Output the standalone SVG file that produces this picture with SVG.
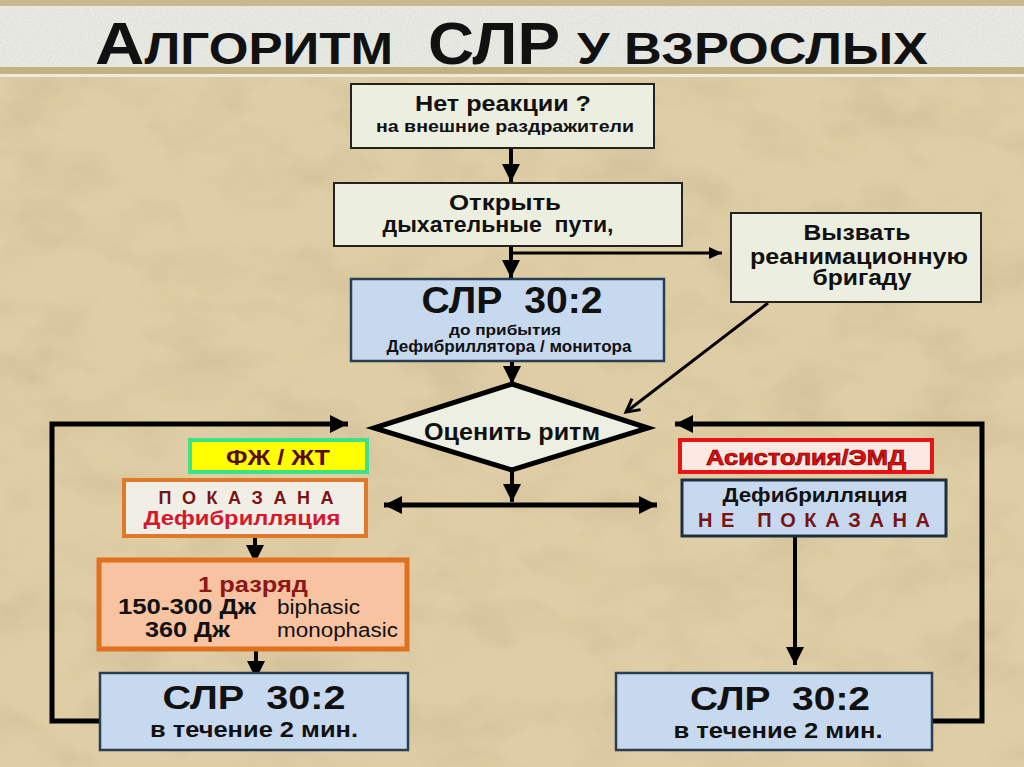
<svg xmlns="http://www.w3.org/2000/svg" width="1024" height="767" viewBox="0 0 1024 767">
<defs>
<filter id="paper" x="0" y="0" width="100%" height="100%">
<feTurbulence type="fractalNoise" baseFrequency="0.012 0.02" numOctaves="4" seed="7"/>
<feColorMatrix type="matrix" values="0 0 0 0 0.62  0 0 0 0 0.5  0 0 0 0 0.3  2.6 0 0 0 -1.1"/>
</filter>
<filter id="grain" x="0" y="0" width="100%" height="100%">
<feTurbulence type="fractalNoise" baseFrequency="0.6" numOctaves="2" seed="2"/>
<feColorMatrix type="matrix" values="0 0 0 0 0.6  0 0 0 0 0.6  0 0 0 0 0.58  1.6 0 0 0 -0.65"/>
</filter>
<marker id="ah" markerUnits="userSpaceOnUse" markerWidth="20" markerHeight="20" refX="18" refY="10" orient="auto">
<path d="M0,1 L18,10 L0,19 Z" fill="#000"/>
</marker>
<marker id="ahs" markerUnits="userSpaceOnUse" markerWidth="20" markerHeight="20" refX="18" refY="10" orient="auto-start-reverse">
<path d="M0,1 L18,10 L0,19 Z" fill="#000"/>
</marker>
<marker id="ahsm" markerUnits="userSpaceOnUse" markerWidth="14" markerHeight="14" refX="13" refY="7" orient="auto">
<path d="M0,1 L13,7 L0,13 Z" fill="#000"/>
</marker>
<marker id="ahopen" markerUnits="userSpaceOnUse" markerWidth="18" markerHeight="18" refX="15" refY="9" orient="auto">
<path d="M2,2 L15,9 L2,16" fill="none" stroke="#000" stroke-width="3"/>
</marker>
<style>
text{font-family:"Liberation Sans",Arial,sans-serif;font-weight:bold;fill:#111;white-space:pre;}
.box{fill:#ecefdf;stroke:#222;stroke-width:2;}
.blue{fill:#c7d9ef;stroke:#2a3e52;stroke-width:2.5;}
.c{text-anchor:middle;}
.conn path,.conn line{fill:none;stroke:#000;}
</style>
</defs>
<!-- background -->
<rect width="1024" height="767" fill="#dfcea5"/>
<rect width="1024" height="767" filter="url(#paper)" opacity="0.6"/>
<!-- title band -->
<rect x="0" y="0" width="1024" height="6" fill="#c9b88c"/>
<rect x="0" y="6" width="1024" height="61" fill="#e9e9e3"/>
<rect x="0" y="6" width="1024" height="61" filter="url(#grain)" opacity="0.5"/>
<rect x="0" y="67" width="1024" height="7" fill="#c3b183"/>
<rect x="0" y="74" width="1024" height="3" fill="#ecebdf"/>
<g id="title">
<text x="95" y="64" font-size="59" textLength="298" lengthAdjust="spacingAndGlyphs">А<tspan font-size="44">ЛГОРИТМ</tspan></text>
<text x="428" y="64" font-size="59" textLength="132" lengthAdjust="spacingAndGlyphs">СЛР</text>
<text x="577" y="64" font-size="44" textLength="351" lengthAdjust="spacingAndGlyphs">У ВЗРОСЛЫХ</text>
</g>
<!-- connectors -->
<g id="connectors" class="conn">
<line x1="511" y1="148" x2="511" y2="182" stroke-width="4" marker-end="url(#ah)"/>
<line x1="511" y1="246" x2="511" y2="278" stroke-width="4" marker-end="url(#ah)"/>
<line x1="511" y1="253" x2="722" y2="253" stroke-width="3" marker-end="url(#ahsm)"/>
<line x1="512" y1="361" x2="512" y2="384" stroke-width="4" marker-end="url(#ah)"/>
<line x1="768" y1="303" x2="626" y2="412" stroke-width="3" marker-end="url(#ahopen)"/>
<line x1="512" y1="470" x2="512" y2="502" stroke-width="4" marker-end="url(#ah)"/>
<line x1="384" y1="505" x2="657" y2="505" stroke-width="5" marker-start="url(#ahs)" marker-end="url(#ahs)"/>
<line x1="255" y1="537" x2="255" y2="563" stroke-width="4" marker-end="url(#ah)"/>
<line x1="256" y1="650" x2="256" y2="679" stroke-width="4" marker-end="url(#ah)"/>
<line x1="795" y1="536" x2="795" y2="665" stroke-width="4" marker-end="url(#ah)"/>
<path d="M100,721 H52 V424 H348" stroke-width="5" marker-end="url(#ah)"/>
<path d="M933,721 H982 V424 H675" stroke-width="5" marker-end="url(#ah)"/>
</g>
<!-- nodes -->
<g id="no-response">
<rect class="box" x="351" y="84" width="303" height="64"/>
<text class="c" x="503" y="111" font-size="22" textLength="176" lengthAdjust="spacingAndGlyphs">Нет реакции ?</text>
<text class="c" x="505" y="132" font-size="17" textLength="258" lengthAdjust="spacingAndGlyphs">на внешние раздражители</text>
</g>
<g id="open-airway">
<rect class="box" x="334" y="183" width="348" height="63"/>
<text class="c" x="505" y="210" font-size="22" textLength="112" lengthAdjust="spacingAndGlyphs">Открыть</text>
<text class="c" x="498" y="232" font-size="22" textLength="231" lengthAdjust="spacingAndGlyphs" xml:space="preserve">дыхательные  пути,</text>
</g>
<g id="call-team">
<rect class="box" x="731" y="213" width="250" height="89"/>
<text class="c" x="857" y="240" font-size="22" textLength="107" lengthAdjust="spacingAndGlyphs">Вызвать</text>
<text class="c" x="859" y="264" font-size="22" textLength="218" lengthAdjust="spacingAndGlyphs">реанимационную</text>
<text class="c" x="862" y="285" font-size="22" textLength="99" lengthAdjust="spacingAndGlyphs">бригаду</text>
</g>
<g id="cpr-initial">
<rect class="blue" x="351" y="279" width="313" height="82"/>
<text class="c" x="512" y="313" font-size="37" textLength="181" lengthAdjust="spacingAndGlyphs" xml:space="preserve">СЛР  30:2</text>
<text class="c" x="505" y="335" font-size="15.5" textLength="112" lengthAdjust="spacingAndGlyphs">до прибытия</text>
<text class="c" x="509" y="352" font-size="16" textLength="245" lengthAdjust="spacingAndGlyphs">Дефибриллятора / монитора</text>
</g>
<g id="assess-rhythm">
<polygon points="512,384 648,428 512,470 374,428" fill="#ecefe2" stroke="#000" stroke-width="5" stroke-linejoin="miter"/>
<text class="c" x="512" y="440" font-size="24" textLength="176" lengthAdjust="spacingAndGlyphs">Оценить ритм</text>
</g>
<g id="vf-vt">
<rect x="190" y="440" width="177" height="32" fill="#ffff00" stroke="#3fe08a" stroke-width="4"/>
<text class="c" x="278" y="465" font-size="22" style="fill:#5a0a0a" textLength="104" lengthAdjust="spacingAndGlyphs">ФЖ / ЖТ</text>
</g>
<g id="shock-indicated">
<rect x="124" y="480" width="242" height="56" fill="#f1eee5" stroke="#e07a2a" stroke-width="4"/>
<text class="c" x="246" y="504" font-size="18" style="fill:#7a1414" textLength="175" lengthAdjust="spacing">П О К А З А Н А</text>
<text class="c" x="242" y="525" font-size="20" style="fill:#d6182e" textLength="197" lengthAdjust="spacingAndGlyphs">Дефибрилляция</text>
</g>
<g id="one-shock">
<rect x="99" y="560" width="308" height="89" fill="#f8c3a0" stroke="#e0701e" stroke-width="5"/>
<text class="c" x="253" y="592" font-size="22" style="fill:#8b1818" textLength="110" lengthAdjust="spacingAndGlyphs">1 разряд</text>
<text x="118" y="614" font-size="22" textLength="138" lengthAdjust="spacingAndGlyphs">150-300 Дж</text>
<text x="277" y="614" font-size="20" style="font-weight:normal" textLength="83" lengthAdjust="spacingAndGlyphs">biphasic</text>
<text x="145" y="637" font-size="22" textLength="85" lengthAdjust="spacingAndGlyphs">360 Дж</text>
<text x="277" y="637" font-size="20" style="font-weight:normal" textLength="121" lengthAdjust="spacingAndGlyphs">monophasic</text>
</g>
<g id="cpr-left">
<rect class="blue" x="100" y="673" width="308" height="77"/>
<text class="c" x="254" y="709" font-size="34" textLength="183" lengthAdjust="spacingAndGlyphs" xml:space="preserve">СЛР  30:2</text>
<text class="c" x="254" y="737" font-size="22" textLength="208" lengthAdjust="spacingAndGlyphs">в течение 2 мин.</text>
</g>
<g id="asystole-pea">
<rect x="680" y="440" width="252" height="32" fill="#fbe8e2" stroke="#e61414" stroke-width="4"/>
<text class="c" x="806" y="465" font-size="22" style="fill:#e80c0c;stroke:#6a0000;stroke-width:0.7" textLength="200" lengthAdjust="spacingAndGlyphs">Асистолия/ЭМД</text>
</g>
<g id="shock-not-indicated">
<rect class="blue" x="682" y="480" width="264" height="56" style="stroke:#1e2e3e;stroke-width:3"/>
<text class="c" x="815" y="502" font-size="20" textLength="185" lengthAdjust="spacingAndGlyphs">Дефибрилляция</text>
<text class="c" x="814" y="527" font-size="20" style="fill:#7a1414" textLength="232" lengthAdjust="spacing" xml:space="preserve">Н Е   П О К А З А Н А</text>
</g>
<g id="cpr-right">
<rect class="blue" x="616" y="673" width="316" height="77"/>
<text class="c" x="780" y="710" font-size="34" textLength="180" lengthAdjust="spacingAndGlyphs" xml:space="preserve">СЛР  30:2</text>
<text class="c" x="778" y="738" font-size="22" textLength="209" lengthAdjust="spacingAndGlyphs">в течение 2 мин.</text>
</g>
</svg>
